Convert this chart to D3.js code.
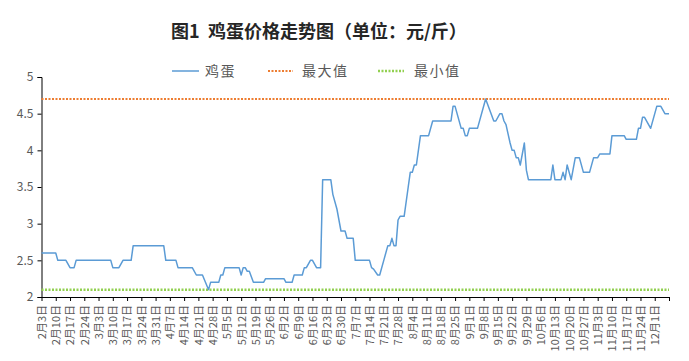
<!DOCTYPE html>
<html><head><meta charset="utf-8">
<script src="https://cdn.jsdelivr.net/npm/d3@7"></script>
<style>body{margin:0;background:#fff}svg{display:block}</style>
</head><body>
<script>
const title = "图1  鸡蛋价格走势图（单位：元/斤）";
const seriesNames = ["鸡蛋", "最大值", "最小值"];
const dates = ["2019-02-03","2019-02-10","2019-02-11","2019-02-15","2019-02-17","2019-02-19","2019-02-20","2019-03-09","2019-03-10","2019-03-13","2019-03-15","2019-03-19","2019-03-20","2019-04-04","2019-04-05","2019-04-10","2019-04-11","2019-04-18","2019-04-20","2019-04-23","2019-04-26","2019-04-27","2019-05-01","2019-05-02","2019-05-03","2019-05-04","2019-05-11","2019-05-12","2019-05-13","2019-05-14","2019-05-15","2019-05-16","2019-05-18","2019-05-23","2019-05-24","2019-06-02","2019-06-03","2019-06-06","2019-06-07","2019-06-11","2019-06-12","2019-06-13","2019-06-15","2019-06-16","2019-06-18","2019-06-20","2019-06-21","2019-06-25","2019-06-26","2019-06-28","2019-06-30","2019-07-02","2019-07-03","2019-07-06","2019-07-07","2019-07-14","2019-07-15","2019-07-16","2019-07-18","2019-07-19","2019-07-21","2019-07-23","2019-07-24","2019-07-25","2019-07-26","2019-07-27","2019-07-28","2019-07-29","2019-07-31","2019-08-02","2019-08-03","2019-08-04","2019-08-05","2019-08-06","2019-08-08","2019-08-12","2019-08-14","2019-08-23","2019-08-24","2019-08-25","2019-08-28","2019-08-29","2019-08-30","2019-08-31","2019-09-01","2019-09-05","2019-09-09","2019-09-13","2019-09-14","2019-09-16","2019-09-17","2019-09-18","2019-09-19","2019-09-21","2019-09-22","2019-09-23","2019-09-24","2019-09-25","2019-09-26","2019-09-28","2019-09-29","2019-09-30","2019-10-11","2019-10-12","2019-10-13","2019-10-16","2019-10-17","2019-10-18","2019-10-19","2019-10-21","2019-10-23","2019-10-25","2019-10-27","2019-10-30","2019-11-01","2019-11-03","2019-11-04","2019-11-09","2019-11-10","2019-11-16","2019-11-17","2019-11-22","2019-11-23","2019-11-24","2019-11-25","2019-11-26","2019-11-29","2019-12-02","2019-12-04","2019-12-06","2019-12-08"];
const values = [2.6,2.6,2.5,2.5,2.4,2.4,2.5,2.5,2.4,2.4,2.5,2.5,2.7,2.7,2.5,2.5,2.4,2.4,2.3,2.3,2.1,2.2,2.2,2.3,2.3,2.4,2.4,2.3,2.4,2.4,2.35,2.35,2.2,2.2,2.25,2.25,2.2,2.2,2.3,2.3,2.4,2.4,2.5,2.5,2.4,2.4,3.6,3.6,3.4,3.2,2.9,2.9,2.8,2.8,2.5,2.5,2.4,2.38,2.3,2.3,2.5,2.7,2.7,2.8,2.7,2.7,3.05,3.1,3.1,3.5,3.7,3.7,3.8,3.8,4.2,4.2,4.4,4.4,4.6,4.6,4.3,4.3,4.2,4.2,4.3,4.3,4.7,4.4,4.4,4.5,4.5,4.4,4.35,4.1,4.0,4.0,3.9,3.9,3.8,4.1,3.73,3.6,3.6,3.8,3.6,3.6,3.7,3.6,3.8,3.6,3.9,3.9,3.7,3.7,3.9,3.9,3.95,3.95,4.2,4.2,4.15,4.15,4.3,4.3,4.45,4.45,4.3,4.6,4.6,4.5,4.5];
const maxValue = 4.7;
const minValue = 2.1;
const yTicks = [2, 2.5, 3, 3.5, 4, 4.5, 5];
const xStart = "2019-02-03", xEnd = "2019-12-08", xLastLabel = "2019-12-01";
const colors = ["#5B9BD5", "#ED7D31", "#92D050"];

const W = 689, H = 361;
const parse = d3.timeParse("%Y-%m-%d");
const data = dates.map((d, i) => ({ date: parse(d), value: values[i] }));

const svg = d3.select("body").append("svg").attr("width", W).attr("height", H);

const x = d3.scaleTime().domain([parse(xStart), parse(xEnd)]).range([41.5, 669]);
const y = d3.scaleLinear().domain([2, 5]).range([297, 77]);

const font = "'Noto Sans CJK SC', 'Noto Sans', sans-serif";

// title
svg.append("text").attr("x", 319).attr("y", 38).attr("text-anchor", "middle")
  .attr("font-family", font).attr("font-weight", 700).attr("font-size", 18)
  .style("white-space", "pre").attr("fill", "#262626").text(title);

// legend
const legendItems = [
  { name: seriesNames[0], color: colors[0], x1: 172, x2: 199, tx: 205, dash: null, w: 1.5 },
  { name: seriesNames[1], color: colors[1], x1: 268, x2: 293, tx: 302, dash: "2,1.5", w: 2 },
  { name: seriesNames[2], color: colors[2], x1: 378, x2: 404, tx: 414, dash: "2,1.5", w: 2.5 }
];
const lg = svg.append("g");
legendItems.forEach(it => {
  lg.append("line").attr("x1", it.x1).attr("x2", it.x2).attr("y1", 71).attr("y2", 71)
    .attr("stroke", it.color).attr("stroke-width", it.w).attr("stroke-dasharray", it.dash);
  lg.append("text").attr("x", it.tx).attr("y", 76).attr("font-family", font)
    .attr("font-size", 14).attr("letter-spacing", 1.5).attr("fill", "#595959").text(it.name);
});

// axes
const yAxis = svg.append("g").attr("transform", "translate(41.5,0)")
  .call(d3.axisLeft(y).tickValues(yTicks).tickSize(4).tickPadding(4).tickFormat(d => String(d)));
yAxis.select(".domain").attr("stroke", "#000");
yAxis.selectAll(".tick line").attr("stroke", "#000");
yAxis.selectAll("text").attr("font-family", font).attr("font-size", 12).attr("fill", "#595959");

const weekTicks = d3.timeWeek.range(parse(xStart), d3.timeDay.offset(parse(xEnd), 1));
const lastLabeled = parse(xLastLabel);
const xAxis = svg.append("g").attr("transform", "translate(0,297)")
  .call(d3.axisBottom(x).tickValues(weekTicks).tickSize(4).tickSizeOuter(0)
    .tickFormat(d => d <= lastLabeled ? d3.timeFormat("%-m月%-d日")(d) : ""));
xAxis.select(".domain").attr("stroke", "#000");
xAxis.selectAll(".tick line").attr("stroke", "#000");
xAxis.selectAll("text").attr("font-family", font).attr("font-size", 11).attr("fill", "#595959")
  .attr("transform", "rotate(-90)").attr("x", -8).attr("y", 0).attr("dy", "0.35em")
  .attr("text-anchor", "end");

// reference lines
svg.append("line").attr("x1", x.range()[0]).attr("x2", x.range()[1])
  .attr("y1", y(maxValue)).attr("y2", y(maxValue))
  .attr("stroke", colors[1]).attr("stroke-width", 2).attr("stroke-dasharray", "2,1.5");
svg.append("line").attr("x1", x.range()[0]).attr("x2", x.range()[1])
  .attr("y1", y(minValue)).attr("y2", y(minValue))
  .attr("stroke", colors[2]).attr("stroke-width", 2.5).attr("stroke-dasharray", "2,1.5");

// series
svg.append("path").datum(data)
  .attr("d", d3.line().x(d => x(d.date)).y(d => y(d.value)))
  .attr("fill", "none").attr("stroke", colors[0]).attr("stroke-width", 1.5)
  .attr("stroke-linejoin", "round");
</script>
</body></html>
